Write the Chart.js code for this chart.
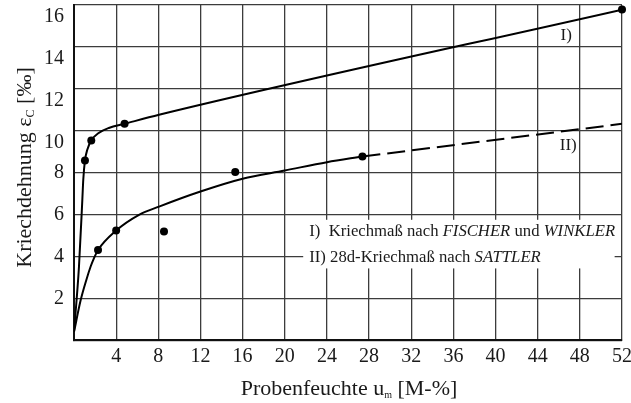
<!DOCTYPE html>
<html>
<head>
<meta charset="utf-8">
<script src="https://cdn.jsdelivr.net/npm/chart.js@4.4.1/dist/chart.umd.min.js"></script>
<style>
  html, body { margin: 0; padding: 0; background: #ffffff; }
  canvas { display: block; }
</style>
</head>
<body>
<canvas id="kriechen" width="631" height="403"></canvas>
<script>
// Achsen
const feuchteTicks = [0, 4, 8, 12, 16, 20, 24, 28, 32, 36, 40, 44, 48, 52];
const dehnungTicks = [0, 2, 4, 6, 8, 10, 12, 14, 16];

// Kurve I: Kriechmaß nach FISCHER und WINKLER
const kurveIFeuchte = [0, 0.47, 0.79, 0.88, 1.04, 1.26, 1.64, 2.34, 3.3, 4.8, 8.07, 52];
const kurveIDehnung = [0.4, 3.5, 6.7, 7.66, 8.58, 9.09, 9.54, 9.89, 10.13, 10.33, 10.76, 15.78];
const messIFeuchte = [1.04, 1.64, 4.8, 52];
const messIDehnung = [8.58, 9.54, 10.33, 15.78];

// Kurve II: 28d-Kriechmaß nach SATTLER
const kurveIIFeuchte = [0, 0.64, 1.17, 1.58, 1.9, 2.28, 4.0, 6.17, 8.07, 12, 16, 20, 24, 27.37];
const kurveIIDehnung = [0.4, 1.93, 2.88, 3.52, 3.92, 4.31, 5.24, 5.99, 6.38, 7.1, 7.71, 8.1, 8.5, 8.77];
const extrapIIFeuchte = [27.37, 52];
const extrapIIDehnung = [8.77, 10.33];
const messIIFeuchte = [2.28, 4.0, 8.54, 15.3, 27.37];
const messIIDehnung = [4.31, 5.24, 5.19, 8.03, 8.77];

const zuPunkten = (xs, ys) => xs.map((x, i) => ({ x: x, y: ys[i] }));

const SERIF = '"Liberation Serif", "Times New Roman", serif';
const TEXT = '#1a1a1a';
const GRID = '#3c3c3c';

// Text mit Kursiv- und Tiefstellungsabschnitten
function richWidth(ctx, segs) {
  let w = 0;
  for (const s of segs) {
    ctx.font = (s.italic ? 'italic ' : '') + s.size + 'px ' + SERIF;
    w += ctx.measureText(s.text).width;
  }
  return w;
}
function drawRich(ctx, segs, x, y) {
  let cx = x;
  ctx.textBaseline = 'alphabetic';
  ctx.textAlign = 'left';
  for (const s of segs) {
    ctx.font = (s.italic ? 'italic ' : '') + s.size + 'px ' + SERIF;
    ctx.fillText(s.text, cx, y + (s.dy || 0));
    cx += ctx.measureText(s.text).width;
  }
}

const beschriftung = {
  id: 'beschriftung',
  beforeDatasetsDraw(chart) {
    const ctx = chart.ctx;
    const xs = chart.scales.x, ys = chart.scales.y;
    ctx.save();
    // weißes Feld der Legende über dem Raster
    const bx0 = xs.getPixelForValue(21.75), bx1 = xs.getPixelForValue(51.3);
    const by0 = ys.getPixelForValue(5.75), by1 = ys.getPixelForValue(3.43);
    ctx.fillStyle = '#ffffff';
    ctx.fillRect(bx0, by0, bx1 - bx0, by1 - by0);
    ctx.fillStyle = TEXT;
    const lx = bx0 + 6;
    const fs = 16.7;
    drawRich(ctx, [
      { text: 'I)  Kriechmaß nach ', size: fs },
      { text: 'FISCHER', size: fs, italic: true },
      { text: ' und ', size: fs },
      { text: 'WINKLER', size: fs, italic: true }
    ], lx, ys.getPixelForValue(5.25) + 6);
    drawRich(ctx, [
      { text: 'II) 28d-Kriechmaß nach ', size: fs },
      { text: 'SATTLER', size: fs, italic: true }
    ], lx, ys.getPixelForValue(4.0) + 6);

    // Kurvenbezeichnungen
    ctx.font = '17px ' + SERIF;
    ctx.textAlign = 'center';
    ctx.textBaseline = 'middle';
    ctx.fillText('I)', xs.getPixelForValue(46.7), ys.getPixelForValue(14.52));
    ctx.fillText('II)', xs.getPixelForValue(46.9), ys.getPixelForValue(9.28));
    ctx.restore();
  },
  afterDraw(chart) {
    const ctx = chart.ctx;
    const a = chart.chartArea;
    ctx.save();
    ctx.fillStyle = TEXT;
    // x-Achsentitel
    const xt = [
      { text: 'Probenfeuchte u', size: 22 },
      { text: 'm', size: 10, dy: 3 },
      { text: ' [M-%]', size: 22 }
    ];
    const wx = richWidth(ctx, xt);
    drawRich(ctx, xt, (a.left + a.right) / 2 + 1 - wx / 2, 395);
    // y-Achsentitel
    const yt = [
      { text: 'Kriechdehnung ε', size: 22 },
      { text: 'C', size: 12, dy: 3 },
      { text: ' [‰]', size: 22 }
    ];
    const wy = richWidth(ctx, yt);
    ctx.translate(31, 167.5);
    ctx.rotate(-Math.PI / 2);
    drawRich(ctx, yt, -wy / 2, 0);
    ctx.restore();
  }
};

new Chart(document.getElementById('kriechen'), {
  type: 'scatter',
  data: {
    datasets: [
      {
        data: zuPunkten(kurveIFeuchte, kurveIDehnung),
        showLine: true, borderColor: '#000', borderWidth: 2,
        pointRadius: 0, cubicInterpolationMode: 'monotone'
      },
      {
        data: zuPunkten(kurveIIFeuchte, kurveIIDehnung),
        showLine: true, borderColor: '#000', borderWidth: 2,
        pointRadius: 0, cubicInterpolationMode: 'monotone'
      },
      {
        data: zuPunkten(extrapIIFeuchte, extrapIIDehnung),
        showLine: true, borderColor: '#000', borderWidth: 2,
        borderDash: [18, 7], pointRadius: 0
      },
      {
        data: zuPunkten(messIFeuchte, messIDehnung),
        pointRadius: 4, pointBackgroundColor: '#000', pointBorderWidth: 0,
        clip: false
      },
      {
        data: zuPunkten(messIIFeuchte, messIIDehnung),
        pointRadius: 4, pointBackgroundColor: '#000', pointBorderWidth: 0,
        clip: false
      }
    ]
  },
  options: {
    responsive: false,
    animation: false,
    layout: { padding: { top: 5, right: 9, left: 0, bottom: 0 } },
    plugins: { legend: { display: false }, tooltip: { enabled: false } },
    scales: {
      x: {
        type: 'linear', min: 0, max: 52,
        afterBuildTicks(s) { s.ticks = feuchteTicks.map(v => ({ value: v })); },
        afterFit(s) { s.height = 62.7; s.paddingLeft = 0; s.paddingRight = 0; },
        ticks: {
          autoSkip: false, maxRotation: 0, padding: 4, color: TEXT,
          font: { family: SERIF, size: 20 },
          callback: v => (v === 0 ? '' : String(v))
        },
        grid: { color: GRID, lineWidth: 1.3, drawTicks: false },
        border: { color: '#111', width: 2 }
      },
      y: {
        type: 'linear', min: 0, max: 16,
        afterBuildTicks(s) { s.ticks = dehnungTicks.map(v => ({ value: v })); },
        afterFit(s) { s.width = 74; s.paddingTop = 0; s.paddingBottom = 0; },
        ticks: {
          autoSkip: false, padding: 10, color: TEXT,
          font: { family: SERIF, size: 20, lineHeight: 1.2 },
          // obere Werte sitzen knapp unter ihrer Rasterlinie
          callback: v => (v === 0 ? '' : (v >= 10 ? ['', String(v)] : String(v)))
        },
        grid: { color: GRID, lineWidth: 1.3, drawTicks: false },
        border: { color: '#111', width: 2 }
      }
    }
  },
  plugins: [beschriftung]
});
</script>
</body>
</html>
